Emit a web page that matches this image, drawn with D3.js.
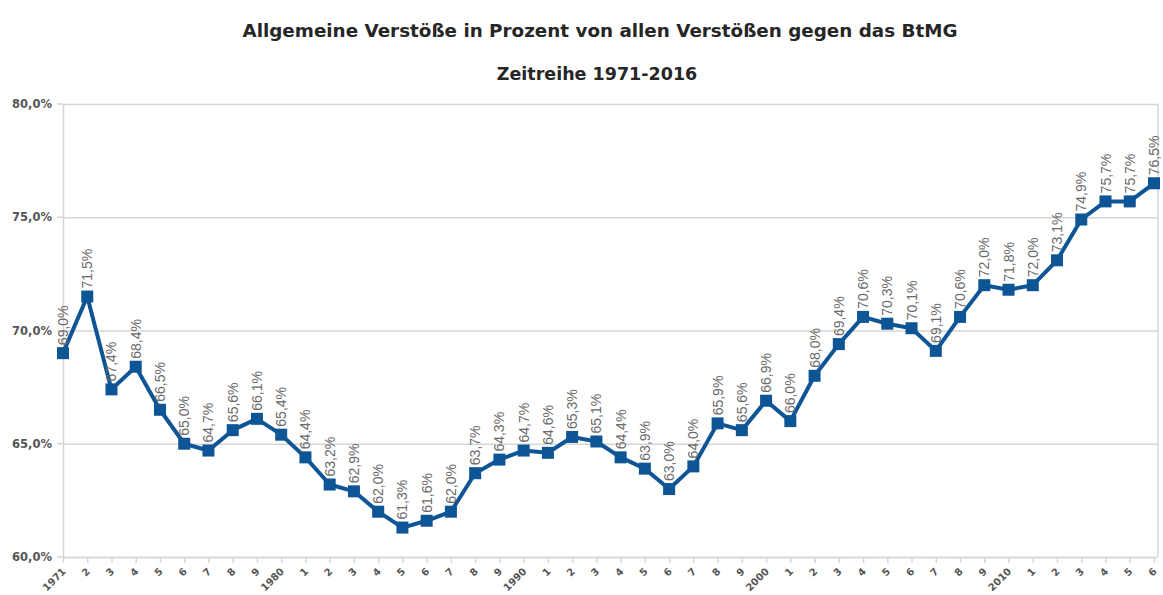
<!DOCTYPE html>
<html>
<head>
<meta charset="utf-8">
<script src="https://cdn.jsdelivr.net/npm/d3@7"></script>
<style>
  body { margin: 0; background: #fff; }
  svg { display: block; }
</style>
</head>
<body>
<svg id="chart" width="1163" height="595"></svg>
<script>
// Allgemeine Verstöße gegen das BtMG, Anteil in Prozent, 1971-2016

const years = d3.range(1971, 2017);
const shares = [
  69.0, 71.5, 67.4, 68.4, 66.5, 65.0, 64.7, 65.6, 66.1, 65.4,
  64.4, 63.2, 62.9, 62.0, 61.3, 61.6, 62.0, 63.7, 64.3, 64.7,
  64.6, 65.3, 65.1, 64.4, 63.9, 63.0, 64.0, 65.9, 65.6, 66.9,
  66.0, 68.0, 69.4, 70.6, 70.3, 70.1, 69.1, 70.6, 72.0, 71.8,
  72.0, 73.1, 74.9, 75.7, 75.7, 76.5
];
const yTicks = [60, 65, 70, 75, 80];

const titleText = "Allgemeine Verstöße in Prozent von allen Verstößen gegen das BtMG";
const subtitleText = "Zeitreihe 1971-2016";

const svg = d3.select("#chart");
const plotLeft = 63, plotRight = 1154, plotTop = 104, plotBottom = 557;
const lineColour = "#0e5596";
const gridColour = "#d6d6d6";

const fmt = v => d3.format(".1f")(v).replace(".", ",") + "%";
const yearLabel = yr => (yr === 1971 || yr % 10 === 0) ? String(yr) : String(yr % 10);

const x = d3.scalePoint().domain(years).range([plotLeft, plotRight]).padding(0);
const y = d3.scaleLinear().domain([60, 80]).range([plotBottom, plotTop]);

// titles
svg.append("text")
  .attr("x", 600).attr("y", 37)
  .attr("text-anchor", "middle")
  .attr("font-family", "DejaVu Sans, sans-serif")
  .attr("font-weight", "bold")
  .attr("font-size", "17.5px")
  .attr("textLength", 715)
  .attr("lengthAdjust", "spacingAndGlyphs")
  .attr("fill", "#262626")
  .text(titleText);

svg.append("text")
  .attr("x", 597).attr("y", 80)
  .attr("text-anchor", "middle")
  .attr("font-family", "DejaVu Sans, sans-serif")
  .attr("font-weight", "bold")
  .attr("font-size", "17.5px")
  .attr("fill", "#262626")
  .text(subtitleText);

// gridlines + y axis
const yAxis = svg.append("g")
  .attr("transform", "translate(" + plotLeft + ",0)")
  .call(d3.axisLeft(y).tickValues(yTicks).tickSize(-(plotRight + 4 - plotLeft)).tickSizeOuter(0)
    .tickFormat(d => d3.format(".1f")(d).replace(".", ",") + "%"));
yAxis.select(".domain").attr("stroke", gridColour).attr("stroke-width", 1.5);
yAxis.selectAll(".tick line").attr("stroke", gridColour).attr("stroke-width", 1.5);
yAxis.selectAll(".tick text")
  .attr("x", -11)
  .attr("font-family", "DejaVu Sans, sans-serif")
  .attr("font-weight", "bold")
  .attr("font-size", "11.5px")
  .attr("fill", "#555");

// left tick stubs for y axis
svg.selectAll(".ystub").data(yTicks).enter().append("line")
  .attr("x1", plotLeft - 6).attr("x2", plotLeft)
  .attr("y1", d => y(d)).attr("y2", d => y(d))
  .attr("stroke", gridColour).attr("stroke-width", 1.5);

// x axis
const xAxis = svg.append("g")
  .attr("transform", "translate(0," + plotBottom + ")")
  .call(d3.axisBottom(x).tickSize(6).tickSizeOuter(0).tickFormat(yearLabel));
xAxis.select(".domain").attr("stroke", gridColour).attr("stroke-width", 1.5);
xAxis.selectAll(".tick line").attr("stroke", gridColour).attr("stroke-width", 1.5);
xAxis.selectAll(".tick text")
  .attr("font-family", "DejaVu Sans, sans-serif")
  .attr("font-weight", "bold")
  .attr("font-size", "10px")
  .attr("fill", "#555")
  .attr("text-anchor", "end")
  .attr("dy", null)
  .attr("y", 0)
  .attr("transform", "translate(3,15) rotate(-45)");

// right frame line
svg.append("line")
  .attr("x1", plotRight + 4).attr("x2", plotRight + 4)
  .attr("y1", plotTop).attr("y2", plotBottom)
  .attr("stroke", gridColour).attr("stroke-width", 1.5);

// series
const line = d3.line().x((d, i) => x(years[i])).y(d => y(d));
svg.append("path")
  .datum(shares)
  .attr("d", line)
  .attr("fill", "none")
  .attr("stroke", lineColour)
  .attr("stroke-width", 4)
  .attr("stroke-linejoin", "round");

svg.selectAll(".marker").data(shares).enter().append("rect")
  .attr("class", "marker")
  .attr("x", (d, i) => x(years[i]) - 6)
  .attr("y", d => y(d) - 6)
  .attr("width", 12).attr("height", 12)
  .attr("fill", lineColour);

// data labels, vertical
svg.selectAll(".vlabel").data(shares).enter().append("text")
  .attr("class", "vlabel")
  .attr("transform", (d, i) => "translate(" + (x(years[i]) + 5) + "," + (y(d) - 8) + ") rotate(-90)")
  .attr("font-family", "Liberation Sans, Arial, sans-serif")
  .attr("font-size", "14px")
  .attr("fill", "#6a6a6a")
  .text(d => fmt(d));
</script>
</body>
</html>
